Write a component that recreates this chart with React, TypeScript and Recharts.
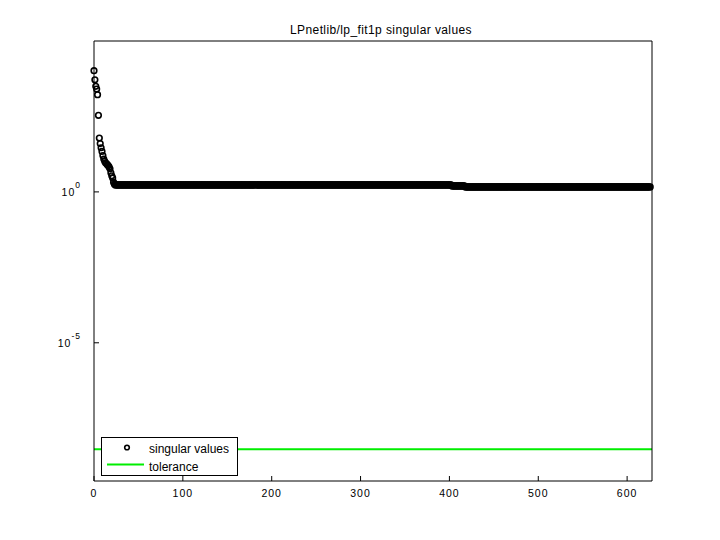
import { ComposedChart, Line, Scatter, XAxis, YAxis } from "recharts";

const indexTicks = [0, 100, 200, 300, 400, 500, 600];
const decadeTicks = [1e-5, 1];
const indexRange = [0, 628];
const valueRange = [Math.pow(10, -9.58), Math.pow(10, 5)];

// first singular values
const leadingValues = [
  10400, 5200, 3140, 2560, 1670, 344, 61, 40, 29, 22, 16, 12.3, 10.3, 9.2, 8.7,
  8.0, 7.5, 6.7, 5.8, 4.3, 3.4, 2.9, 2.1, 1.8,
];
// the long flat tail: level and how many points sit on it
const plateauLevels = [1.7, 1.58, 1.46];
const plateauLengths = [379, 15, 209];
const toleranceValue = 2.95e-9;

const singularValues = [
  ...leadingValues,
  ...plateauLevels.flatMap((v, k) => Array(plateauLengths[k]).fill(v)),
].map((sv, idx) => ({ idx, sv }));

const toleranceData = indexRange.map((idx) => ({ idx, tol: toleranceValue }));

const FONT = "'Liberation Sans', Arial, sans-serif";
const GREEN = "#00ee00";

function Ring(props: any) {
  const { cx, cy } = props;
  return <circle cx={cx} cy={cy} r={2.8} fill="none" stroke="#000" strokeWidth={1.6} />;
}

function BottomTick({ x, y, payload }: any) {
  return (
    <g>
      <line x1={x} x2={x} y1={y} y2={y - 5} stroke="#000" />
      <text x={x} y={y + 15.5} textAnchor="middle" fontSize={10.5} letterSpacing={1} fontFamily={FONT} fill="#000">
        {payload.value}
      </text>
    </g>
  );
}

function TopTick({ x, y }: any) {
  return <line x1={x} x2={x} y1={y} y2={y + 5} stroke="#000" />;
}

function LeftTick({ x, y, payload }: any) {
  const exp = Math.round(Math.log10(payload.value));
  return (
    <g>
      <line x1={x} x2={x + 5} y1={y} y2={y} stroke="#000" />
      <text x={x - 13} y={y + 4.5} textAnchor="end" fontSize={10.5} letterSpacing={1} fontFamily={FONT} fill="#000">
        10
        <tspan dy={-8} fontSize={8.5}>
          {exp}
        </tspan>
      </text>
    </g>
  );
}

function RightTick({ x, y }: any) {
  return <line x1={x} x2={x - 5} y1={y} y2={y} stroke="#000" />;
}

export default function App() {
  return (
    <div style={{ position: "absolute", left: 0, top: 0, width: 720, height: 540, background: "#fff" }}>
      <ComposedChart width={720} height={540} margin={{ top: 40, right: 67, bottom: 0, left: 0 }}>
        <XAxis
          dataKey="idx"
          type="number"
          domain={indexRange}
          ticks={indexTicks}
          height={59}
          tickSize={0}
          tickMargin={0}
          tickLine={false}
          tick={<BottomTick />}
          axisLine={{ stroke: "#000" }}
        />
        <XAxis
          xAxisId="top"
          orientation="top"
          type="number"
          domain={indexRange}
          ticks={indexTicks}
          height={1}
          tickSize={0}
          tickMargin={0}
          tickLine={false}
          tick={<TopTick />}
          axisLine={{ stroke: "#000" }}
        />
        <YAxis
          scale="log"
          type="number"
          domain={valueRange}
          ticks={decadeTicks}
          width={94}
          tickSize={0}
          tickMargin={0}
          tickLine={false}
          tick={<LeftTick />}
          axisLine={{ stroke: "#000" }}
        />
        <YAxis
          yAxisId="right"
          orientation="right"
          scale="log"
          type="number"
          domain={valueRange}
          ticks={decadeTicks}
          width={1}
          tickSize={0}
          tickMargin={0}
          tickLine={false}
          tick={<RightTick />}
          axisLine={{ stroke: "#000" }}
        />
        <Line
          data={toleranceData}
          dataKey="tol"
          stroke={GREEN}
          strokeWidth={2}
          dot={false}
          isAnimationActive={false}
        />
        <Scatter data={singularValues} dataKey="sv" shape={<Ring />} isAnimationActive={false} />

        <text x={381} y={34} textAnchor="middle" fontSize={12} letterSpacing={0.4} fontFamily={FONT} fill="#000">
          LPnetlib/lp_fit1p singular values
        </text>
      </ComposedChart>

      {/* legend, laid over the plot so it hides the tolerance line */}
      <svg width={720} height={540} style={{ position: "absolute", left: 0, top: 0, pointerEvents: "none" }}>
        <rect x={101.5} y={437.5} width={136} height={38} fill="#fff" stroke="#000" />
        <circle cx={127} cy={447.5} r={2.3} fill="none" stroke="#000" strokeWidth={1.6} />
        <text x={149} y={453} fontSize={12} fontFamily={FONT} fill="#000">
          singular values
        </text>
        <line x1={107} x2={144} y1={464.5} y2={464.5} stroke={GREEN} strokeWidth={2} />
        <text x={149} y={470.5} fontSize={12} fontFamily={FONT} fill="#000">
          tolerance
        </text>
      </svg>
    </div>
  );
}
